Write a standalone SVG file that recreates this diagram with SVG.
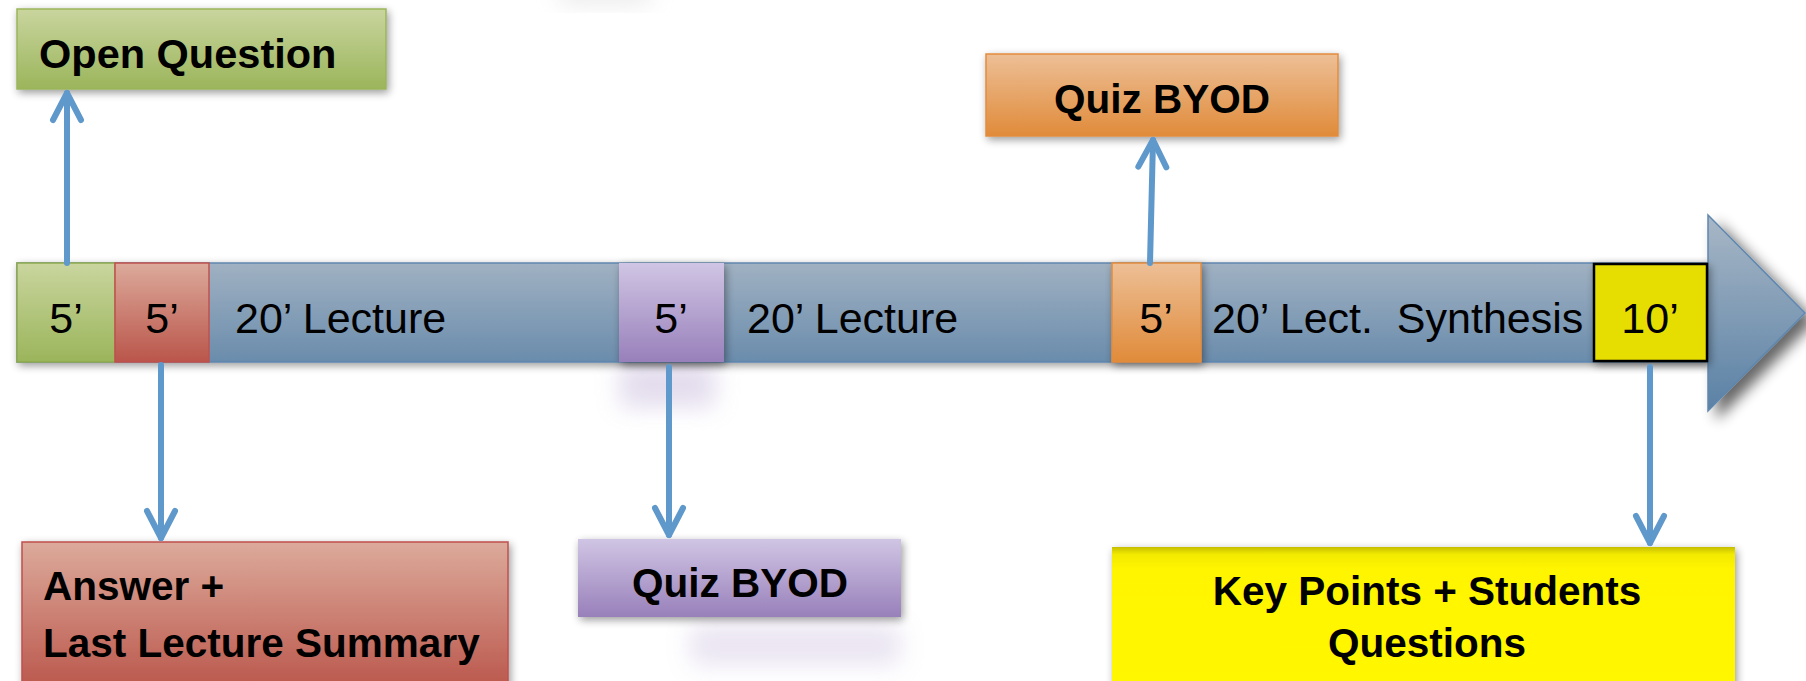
<svg xmlns="http://www.w3.org/2000/svg" width="1806" height="681" viewBox="0 0 1806 681">
<defs>
<style>
.t{font-family:"Liberation Sans",Arial,sans-serif;font-size:43px;fill:#000}
.b{font-family:"Liberation Sans",Arial,sans-serif;font-size:40.5px;font-weight:bold;fill:#000}
.conn{stroke:#5F98CB;stroke-width:6;fill:none;stroke-linecap:round}
</style>
<linearGradient id="gBar" x1="0" y1="0" x2="0" y2="1"><stop offset="0" stop-color="#A0B1C2"/><stop offset="1" stop-color="#6A8CAC"/></linearGradient>
<linearGradient id="gHead" x1="0" y1="0" x2="0" y2="1"><stop offset="0" stop-color="#A8B7C6"/><stop offset="1" stop-color="#5A81A5"/></linearGradient>
<linearGradient id="gGreen" x1="0" y1="0" x2="0" y2="1"><stop offset="0" stop-color="#C9D59E"/><stop offset="1" stop-color="#9BB55B"/></linearGradient>
<linearGradient id="gRed" x1="0" y1="0" x2="0" y2="1"><stop offset="0" stop-color="#DCAA9B"/><stop offset="1" stop-color="#BA554A"/></linearGradient>
<linearGradient id="gPurple" x1="0" y1="0" x2="0" y2="1"><stop offset="0" stop-color="#D0C5E4"/><stop offset="1" stop-color="#9880BA"/></linearGradient>
<linearGradient id="gOrange" x1="0" y1="0" x2="0" y2="1"><stop offset="0" stop-color="#EDBF96"/><stop offset="1" stop-color="#E08B3A"/></linearGradient>
<linearGradient id="gYellow" x1="0" y1="0" x2="0" y2="1"><stop offset="0" stop-color="#C6BE00"/><stop offset="0.05" stop-color="#F2EA00"/><stop offset="0.15" stop-color="#FFF500"/><stop offset="1" stop-color="#FFF700"/></linearGradient>
<filter id="sh" x="-10%" y="-20%" width="125%" height="150%">
<feGaussianBlur in="SourceAlpha" stdDeviation="4"/><feOffset dx="2" dy="3"/>
<feComponentTransfer><feFuncA type="linear" slope="0.4"/></feComponentTransfer>
<feMerge><feMergeNode/><feMergeNode in="SourceGraphic"/></feMerge>
</filter>
<filter id="shBig" x="-20%" y="-20%" width="160%" height="150%">
<feGaussianBlur in="SourceAlpha" stdDeviation="7"/><feOffset dx="9" dy="8"/>
<feComponentTransfer><feFuncA type="linear" slope="0.6"/></feComponentTransfer>
<feMerge><feMergeNode/><feMergeNode in="SourceGraphic"/></feMerge>
</filter>
<filter id="blur" x="-50%" y="-50%" width="200%" height="200%"><feGaussianBlur stdDeviation="12"/></filter>
<marker id="chev" markerUnits="userSpaceOnUse" markerWidth="40" markerHeight="40" refX="0" refY="0" viewBox="-32 -20 40 40" orient="auto" overflow="visible">
<path d="M-27,-14 L0,0 L-27,14" fill="none" stroke="#5F98CB" stroke-width="6" stroke-linecap="round" stroke-linejoin="round"/>
</marker>
</defs>
<rect width="1806" height="681" fill="#FFFFFF"/>

<!-- faint reflections / shadows -->
<rect x="560" y="-20" width="90" height="22" fill="#BBBBBB" opacity="0.35" filter="url(#blur)"/>
<rect x="620" y="362" width="95" height="45" fill="#B9A8D3" opacity="0.4" filter="url(#blur)"/>
<rect x="690" y="625" width="210" height="40" fill="#B9A8D3" opacity="0.3" filter="url(#blur)"/>

<!-- timeline bar -->
<g id="timeline">
<rect x="17" y="263" width="1692" height="99" fill="url(#gBar)" stroke="#5F87AF" stroke-width="1.5" filter="url(#sh)"/>
<path d="M1708,215 L1805,313 L1708,411 Z" fill="url(#gHead)" stroke="#5F87AF" stroke-width="1.5" filter="url(#shBig)"/>
</g>

<g id="seg-green">
<rect x="17" y="263" width="98" height="99" fill="url(#gGreen)" stroke="#8EA94E" stroke-width="1.5"/>
<text class="t" x="66" y="333" text-anchor="middle">5’</text>
</g>
<g id="seg-red">
<rect x="115" y="263" width="94" height="99" fill="url(#gRed)" stroke="#C0504D" stroke-width="1.5"/>
<text class="t" x="162" y="333" text-anchor="middle">5’</text>
</g>
<g id="lecture-1"><text class="t" x="235" y="333">20’ Lecture</text></g>
<g id="seg-purple">
<rect x="619" y="263" width="105" height="99" fill="url(#gPurple)" filter="url(#sh)"/>
<text class="t" x="671" y="333" text-anchor="middle">5’</text>
</g>
<g id="lecture-2"><text class="t" x="747" y="333">20’ Lecture</text></g>
<g id="seg-orange">
<rect x="1112" y="263" width="89" height="99" fill="url(#gOrange)" stroke="#E38C3C" stroke-width="1.5" filter="url(#sh)"/>
<text class="t" x="1156" y="333" text-anchor="middle">5’</text>
</g>
<g id="lecture-3"><text class="t" x="1212" y="333" xml:space="preserve">20’ Lect.  Synthesis</text></g>
<g id="seg-yellow">
<rect x="1594" y="264" width="113" height="97" fill="#E6DE00" stroke="#000" stroke-width="2.5" filter="url(#sh)"/>
<text class="t" x="1650" y="333" text-anchor="middle">10’</text>
</g>

<!-- callout boxes -->
<g id="open-question">
<rect x="17" y="9" width="369" height="80" fill="url(#gGreen)" stroke="#9BB55B" stroke-width="1.5" filter="url(#sh)"/>
<text class="b" x="39" y="68" style="font-size:41.5px">Open Question</text>
</g>
<g id="quiz-top">
<rect x="986" y="54" width="352" height="82" fill="url(#gOrange)" stroke="#E38C3C" stroke-width="1.5" filter="url(#sh)"/>
<text class="b" x="1162" y="113" text-anchor="middle">Quiz BYOD</text>
</g>
<g id="answer">
<rect x="22" y="542" width="486" height="150" fill="url(#gRed)" stroke="#C0504D" stroke-width="1.5" filter="url(#sh)"/>
<text class="b" x="43" y="600">Answer +</text>
<text class="b" x="43" y="657">Last Lecture Summary</text>
</g>
<g id="quiz-bottom">
<rect x="578" y="539" width="323" height="78" fill="url(#gPurple)" filter="url(#sh)"/>
<text class="b" x="740" y="597" text-anchor="middle">Quiz BYOD</text>
</g>
<g id="key-points">
<rect x="1112" y="547" width="623" height="145" fill="url(#gYellow)" filter="url(#sh)"/>
<text class="b" x="1427" y="605" text-anchor="middle">Key Points + Students</text>
<text class="b" x="1427" y="657" text-anchor="middle">Questions</text>
</g>

<!-- connectors -->
<g id="connectors">
<path class="conn" d="M67,263 L67,93" marker-end="url(#chev)"/>
<path class="conn" d="M161,365 L161,538" marker-end="url(#chev)"/>
<path class="conn" d="M669,367 L669,535" marker-end="url(#chev)"/>
<path class="conn" d="M1150,263 L1153,140" marker-end="url(#chev)"/>
<path class="conn" d="M1650,367 L1650,543" marker-end="url(#chev)"/>
</g>
</svg>
